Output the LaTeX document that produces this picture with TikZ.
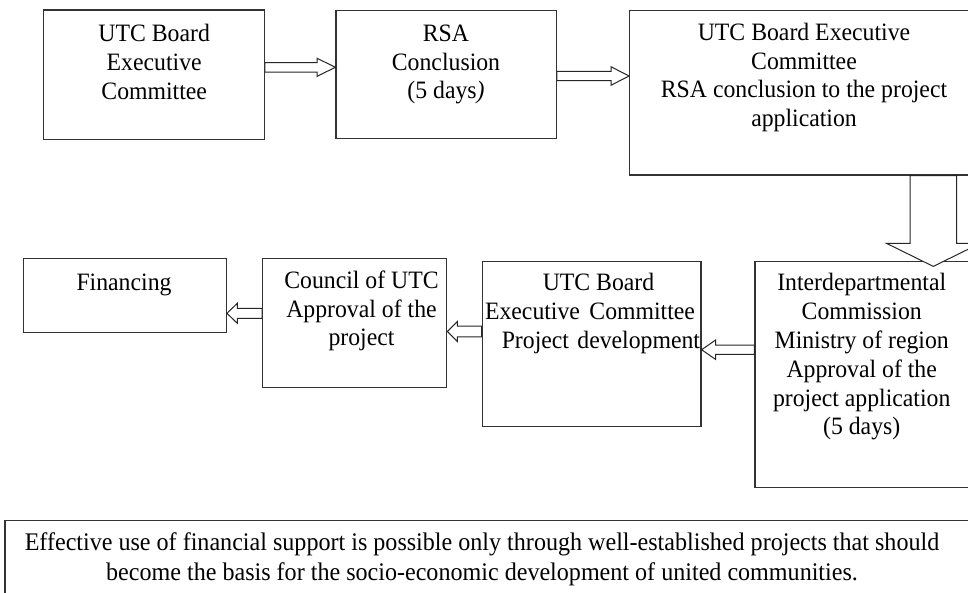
\documentclass[tikz,border=0pt]{standalone}
\usepackage{fontspec}
\setmainfont{Liberation Serif}[FakeStretch=0.95]
\usetikzlibrary{calc}
\tikzset{
  box/.style={draw=black!80, line width=1.2pt, rectangle, inner sep=0pt},
  txt/.style={align=center, anchor=north, inner sep=0pt, font=\fontsize{25}{28.8}\selectfont},
  blk/.style={draw=black!85, line width=1pt, fill=white, line join=miter},
  harrow/.style n args={3}{to path={let \p1=(\tikztostart), \p2=(\tikztotarget), \n1={sign(\x2-\x1)} in
    (\x1,{\y1+#1}) -- ({\x2-(\n1)*#3},{\y1+#1}) -- ({\x2-(\n1)*#3},{\y1+#2}) -- (\x2,\y1)
    -- ({\x2-(\n1)*#3},{\y1-#2}) -- ({\x2-(\n1)*#3},{\y1-#1}) -- (\x1,{\y1-#1}) -- cycle}},
  varrow/.style n args={3}{to path={let \p1=(\tikztostart), \p2=(\tikztotarget), \n1={sign(\y2-\y1)} in
    ({\x1+#1},\y1) -- ({\x1+#1},{\y2-(\n1)*#3}) -- ({\x1+#2},{\y2-(\n1)*#3}) -- (\x1,\y2)
    -- ({\x1-#2},{\y2-(\n1)*#3}) -- ({\x1-#1},{\y2-(\n1)*#3}) -- ({\x1-#1},\y1) -- cycle}},
}
\newcommand{\fl}{\rule{0pt}{19pt}}
\begin{document}
\begin{tikzpicture}[x=1pt,y=-1pt]
\useasboundingbox (0,0) rectangle (968,592);
\clip (0,0) rectangle (968,592);
\fill[white] (0,0) rectangle (968,592);

% boxes
\node[box, minimum width=221pt, minimum height=129.3pt] (b1) at (153.8,74.65) {};
\node[box, minimum width=220.3pt, minimum height=127.6pt] (b2) at (446.15,74.5) {};
\node[box, minimum width=350.3pt, minimum height=164.3pt] (b3) at (804.85,92.85) {};
\node[box, minimum width=203pt, minimum height=74pt] (fin) at (124.8,295.3) {};
\node[box, minimum width=184pt, minimum height=129pt] (cou) at (354.7,322.8) {};
\node[box, minimum width=218.7pt, minimum height=165pt] (utc2) at (591.65,344.2) {};
\node[box, minimum width=225pt, minimum height=226pt] (inter) at (867.5,374.7) {};
\node[box, minimum width=975pt, minimum height=89.3pt] (note) at (492.5,565.35) {};

% texts
\node[txt] (t1) at (154.2,22.5) {\fl UTC Board\\Executive\\Committee};
\node[txt] (t2) at (446,22) {\fl RSA\\Conclusion\\(5 days\textit{)}};
\node[txt] (t3) at (804,21) {\fl UTC Board Executive\\Committee\\RSA conclusion to the project\\application};
\node[txt] (tf) at (124,271) {\fl Financing};
\node[txt] (tc) at (361.5,269) {\fl Council of UTC\\Approval of the\\project};
\node[txt] (tu) at (598.5,271.7) {\fl UTC Board\\\kern-17pt Executive \hspace{3.5pt}Committee\\\kern4.8pt Project \hspace{2.4pt}development};
\node[txt] (ti) at (861.7,271.7) {\fl Interdepartmental\\Commission\\Ministry of region\\Approval of the\\project application\\(5 days)};
\node[txt, font=\fontsize{25.35}{30}\selectfont] (tn) at (482,531) {\fl Effective use of financial support is possible only through well-established projects that should\\become the basis for the socio-economic development of united communities.};

% block arrows
\draw[blk] (b1.east |- 0,67.3) to[harrow={4.8pt}{9pt}{18.3pt}] (b2.west |- 0,67.3);
\draw[blk] (b2.east |- 0,76) to[harrow={4.7pt}{9.2pt}{18pt}] (b3.west |- 0,76);
\draw[blk] (b3.south -| 933.3,0) to[varrow={23.3pt}{46.7pt}{23pt}] ($(inter.north -| 933.3,0)+(0,5.3)$);
\draw[blk] (inter.west |- 0,349.7) to[harrow={4.7pt}{9.7pt}{14pt}] (utc2.east |- 0,349.7);
\draw[blk] (utc2.west |- 0,331.5) to[harrow={5.3pt}{10pt}{10pt}] (cou.east |- 0,331.5);
\draw[blk] (cou.west |- 0,313.3) to[harrow={5pt}{10pt}{10.4pt}] (fin.east |- 0,313.3);
\end{tikzpicture}
\end{document}
